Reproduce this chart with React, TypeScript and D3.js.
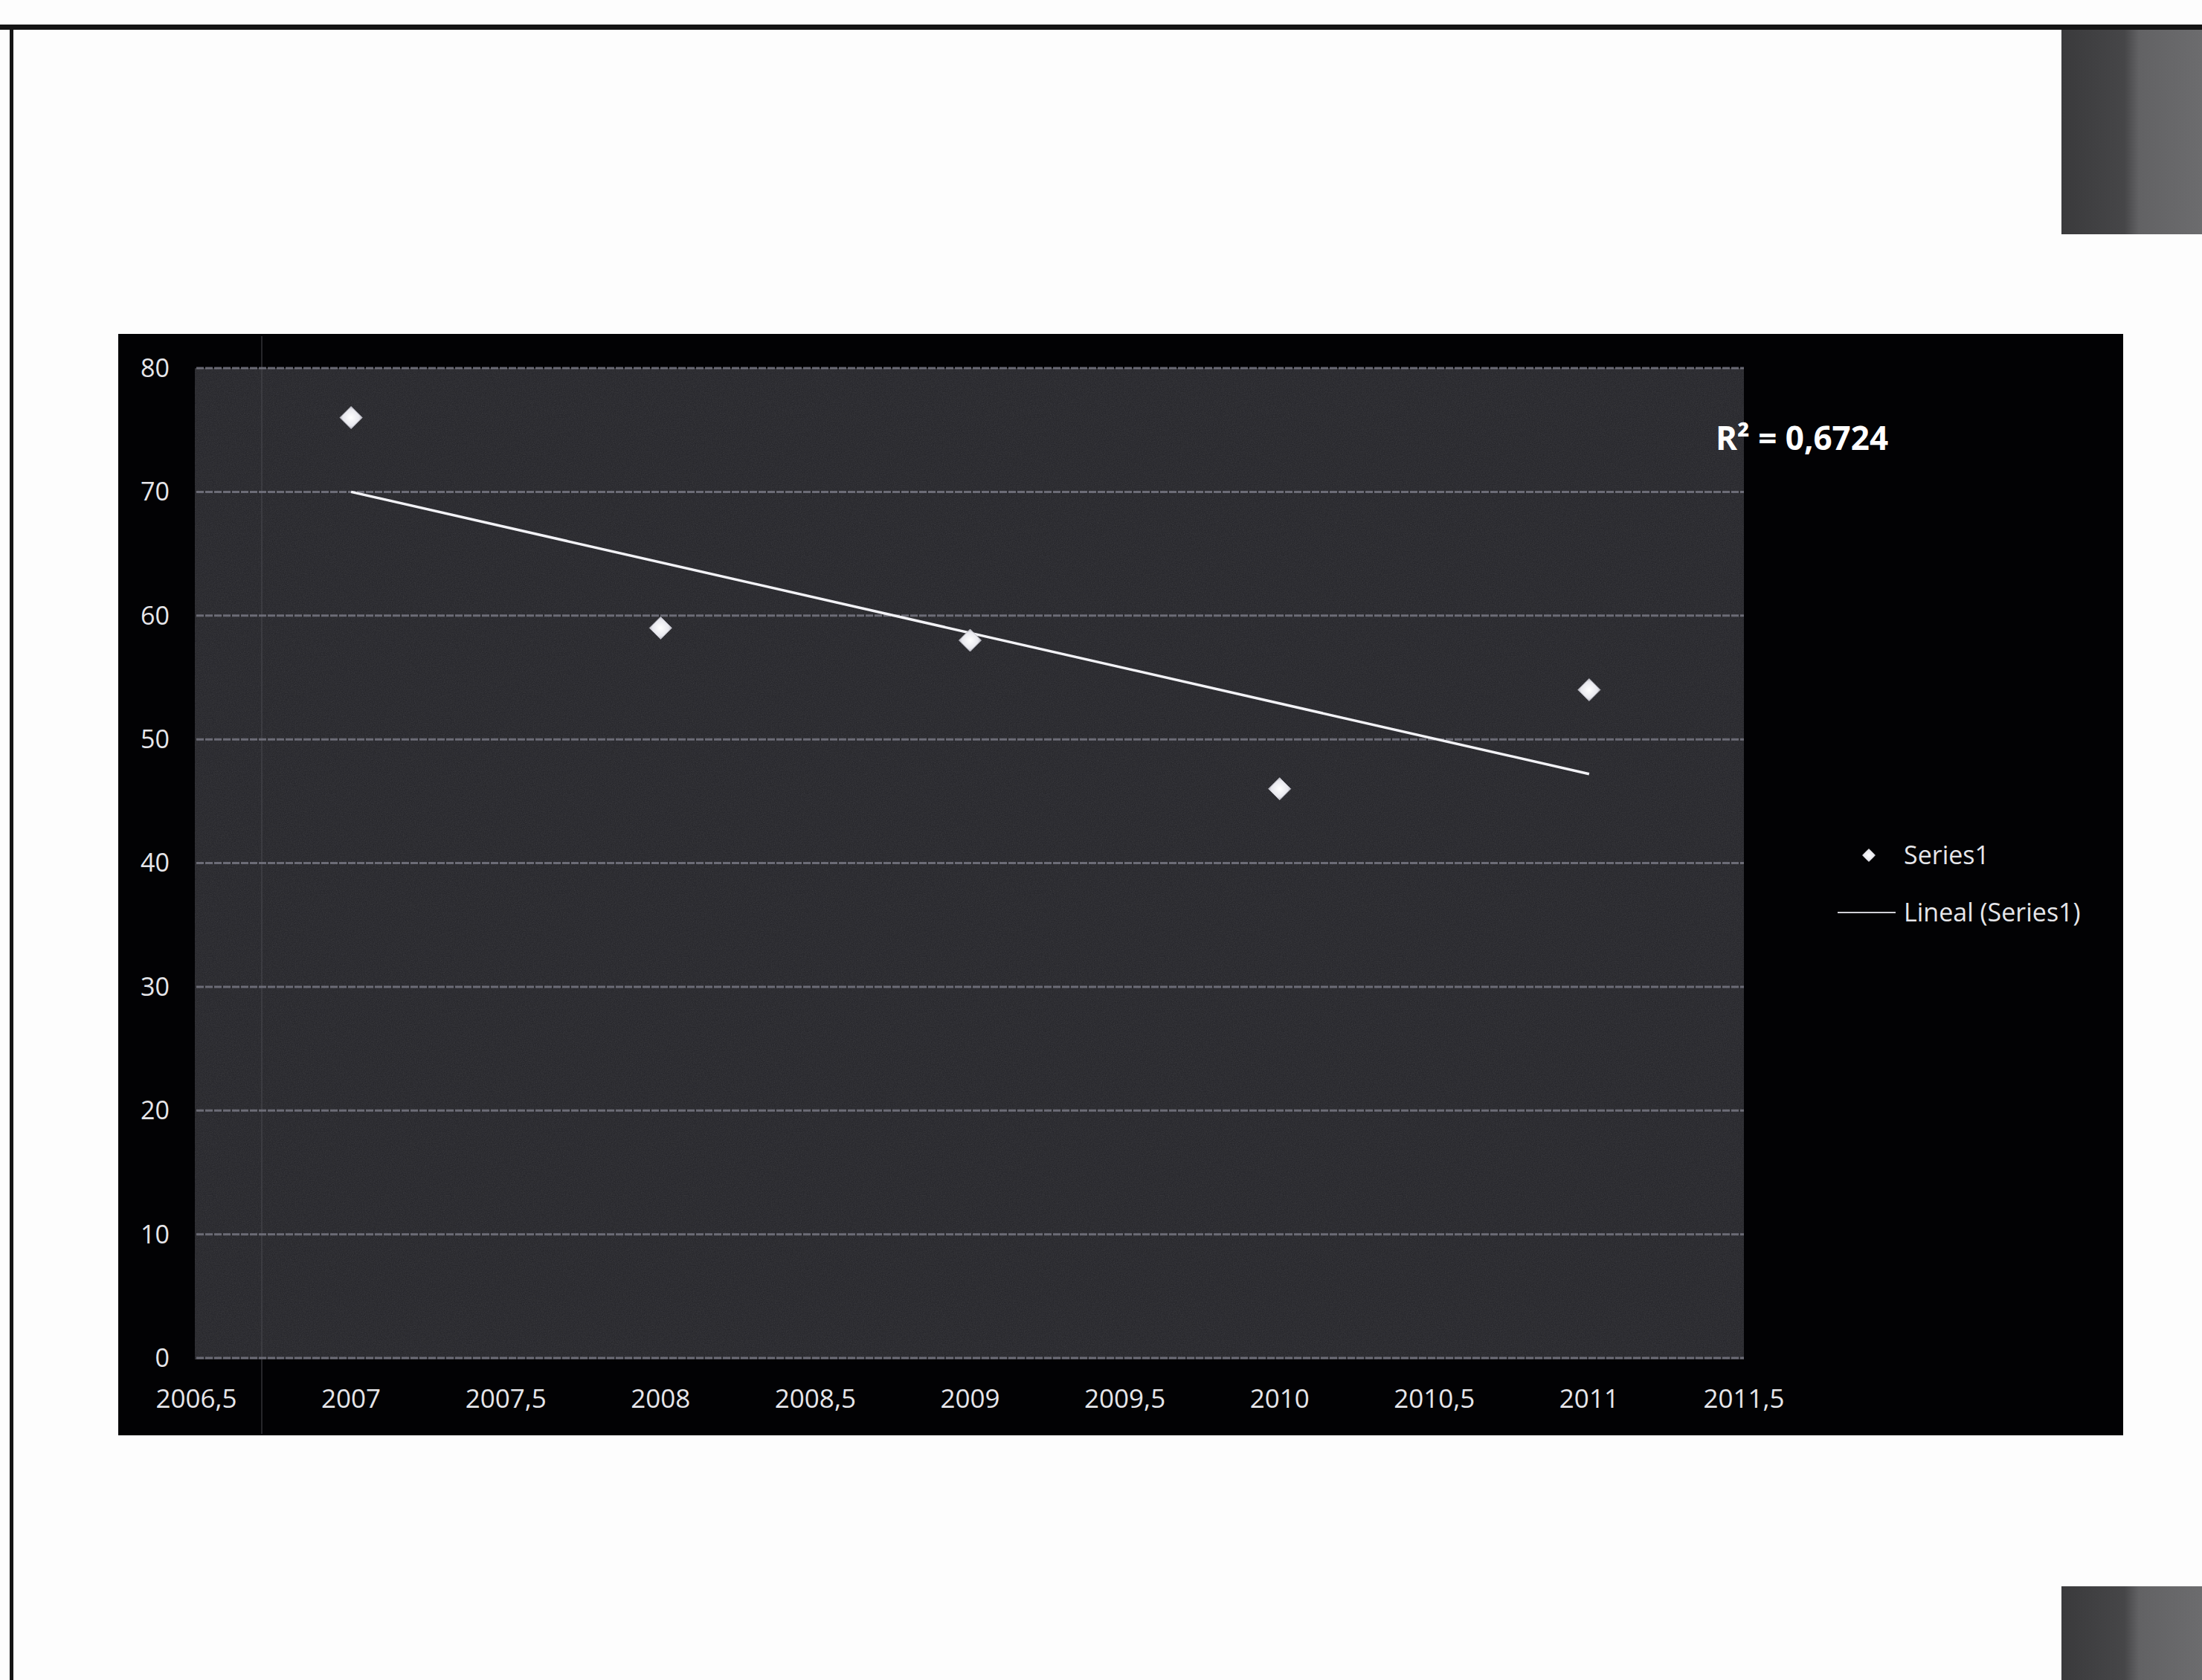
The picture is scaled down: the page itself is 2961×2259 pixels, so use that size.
import React from "react";
import * as d3 from "d3";

const years = [2007, 2008, 2009, 2010, 2011];
const values = [76, 59, 58, 46, 54];
const xTicks = [2006.5, 2007, 2007.5, 2008, 2008.5, 2009, 2009.5, 2010, 2010.5, 2011, 2011.5];
const yTicks = [0, 10, 20, 30, 40, 50, 60, 70, 80];
const seriesName = "Series1";
const trendName = "Lineal (Series1)";

const W = 2961;
const H = 2259;
const FONT = "'Open Sans', Lato, sans-serif";

function fmt(v: number) {
  return String(v).replace(".", ",");
}

export default function App() {
  const x = d3.scaleLinear().domain([2006.5, 2011.5]).range([264, 2345]);
  const y = d3.scaleLinear().domain([0, 80]).range([1826, 495]);

  // least squares trend
  const mx = d3.mean(years)!;
  const my = d3.mean(values)!;
  const sxy = d3.sum(years.map((v, i) => (v - mx) * (values[i] - my)));
  const sxx = d3.sum(years.map((v) => (v - mx) ** 2));
  const syy = d3.sum(values.map((v) => (v - my) ** 2));
  const slope = sxy / sxx;
  const icpt = my - slope * mx;
  const r2 = (sxy * sxy) / (sxx * syy);
  const x0 = d3.min(years)!;
  const x1 = d3.max(years)!;
  const line = d3.line<[number, number]>().x((d) => x(d[0])).y((d) => y(d[1]));
  const trendPath = line([
    [x0, icpt + slope * x0],
    [x1, icpt + slope * x1],
  ])!;

  const diamond = (cx: number, cy: number, r: number) =>
    `M${cx},${cy - r}L${cx + r},${cy}L${cx},${cy + r}L${cx - r},${cy}Z`;

  return (
    <svg
      width={W}
      height={H}
      viewBox={`0 0 ${W} ${H}`}
      style={{ position: "absolute", left: 0, top: 0, display: "block", background: "#fdfdfd" }}
    >
      <defs>
        <filter id="grain" x="0" y="0" width="100%" height="100%">
          <feTurbulence type="fractalNoise" baseFrequency="0.8" numOctaves="2" seed="3" result="n" />
          <feColorMatrix type="saturate" values="0" />
        </filter>
        <linearGradient id="blockGrad" x1="0" x2="1" y1="0" y2="0">
          <stop offset="0" stopColor="#3a3a3c" />
          <stop offset="0.45" stopColor="#464648" />
          <stop offset="0.55" stopColor="#626264" />
          <stop offset="1" stopColor="#6c6c6e" />
        </linearGradient>
        <radialGradient id="mk" cx="0.5" cy="0.5" r="0.6">
          <stop offset="0" stopColor="#ffffff" />
          <stop offset="0.6" stopColor="#e8e8ee" />
          <stop offset="1" stopColor="#9a9aa6" />
        </radialGradient>
        <clipPath id="plotClip">
          <rect x={262} y={495} width={2083} height={1333} />
        </clipPath>
      </defs>

      {/* page frame */}
      <rect x={0} y={33} width={W} height={7} fill="#151515" />
      <rect x={13} y={33} width={5} height={H - 33} fill="#151515" />

      {/* gray blocks on right */}
      <rect x={2772} y={40} width={189} height={275} fill="url(#blockGrad)" />
      <rect x={2772} y={2133} width={189} height={126} fill="url(#blockGrad)" />

      {/* chart area */}
      <rect x={159} y={449} width={2696} height={1481} fill="#020204" />

      {/* plot area */}
      <rect x={262} y={495} width={2083} height={1333} fill="#232328" />
      <g clipPath="url(#plotClip)" opacity={0.14}>
        <rect x={262} y={495} width={2083} height={1333} filter="url(#grain)" />
      </g>

      {/* faint vertical scan line */}
      <line x1={352} x2={352} y1={452} y2={1928} stroke="#4a4a50" strokeWidth={2} opacity={0.5} />

      {/* horizontal gridlines */}
      {yTicks.map((t) => (
        <line
          key={"g" + t}
          x1={264}
          x2={2345}
          y1={y(t)}
          y2={y(t)}
          stroke="#73737e"
          strokeWidth={3}
          strokeDasharray="10 2"
          opacity={0.9}
        />
      ))}

      {/* y tick labels */}
      {yTicks.map((t) => (
        <text
          key={"y" + t}
          x={228}
          y={y(t)}
          dy="0.35em"
          textAnchor="end"
          fill="#e6e6ea"
          fontFamily={FONT}
          fontSize={34}
        >
          {t}
        </text>
      ))}

      {/* x tick labels */}
      {xTicks.map((t) => (
        <text
          key={"x" + t}
          x={x(t)}
          y={1893}
          textAnchor="middle"
          fill="#e6e6ea"
          fontFamily={FONT}
          fontSize={35}
        >
          {fmt(t)}
        </text>
      ))}

      {/* trend line */}
      <path d={trendPath} stroke="#f2f2f6" strokeWidth={3.5} fill="none" />

      {/* points */}
      {years.map((yr, i) => (
        <path key={"p" + yr} d={diamond(x(yr), y(values[i]), 15)} fill="url(#mk)" stroke="#bdbdc6" strokeWidth={1} />
      ))}

      {/* R² */}
      <text x={2307} y={605} fill="#ffffff" fontFamily={FONT} fontSize={44} fontWeight="bold">
        {"R² = " + r2.toFixed(4).replace(".", ",")}
      </text>

      {/* legend */}
      <path d={diamond(2513, 1150, 9)} fill="url(#mk)" />
      <text x={2560} y={1162} fill="#e6e6ea" fontFamily={FONT} fontSize={34}>
        {seriesName}
      </text>
      <line x1={2471} x2={2549} y1={1227} y2={1227} stroke="#d0d0d6" strokeWidth={2} />
      <text x={2560} y={1239} fill="#e6e6ea" fontFamily={FONT} fontSize={34}>
        {trendName}
      </text>
    </svg>
  );
}
